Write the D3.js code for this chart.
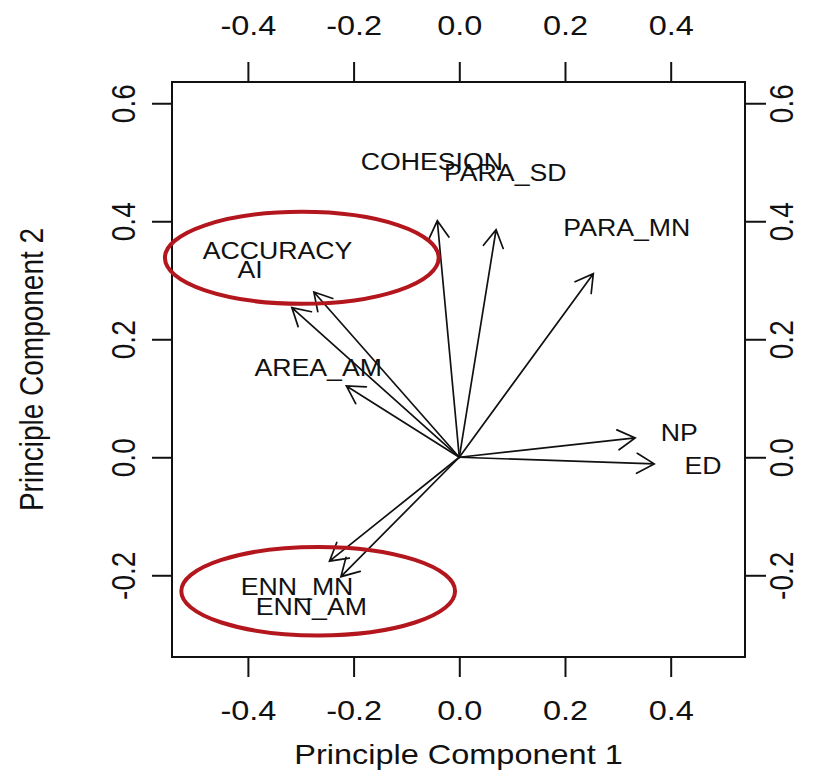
<!DOCTYPE html>
<html>
<head>
<meta charset="utf-8">
<script src="https://cdn.jsdelivr.net/npm/d3@7"></script>
<style>
  html, body { margin: 0; padding: 0; background: #fff; }
  svg text { font-family: "Liberation Sans", Arial, Helvetica, sans-serif; fill: #111; }
</style>
</head>
<body>
<svg id="grafico" width="825" height="776"></svg>
<script>
// variaveis e cargas (posicao dos rotulos, como no biplot do R)
const variaveis = ["COHESION", "PARA_SD", "PARA_MN", "ACCURACY", "AI", "AREA_AM", "NP", "ED", "ENN_MN", "ENN_AM"];
const pc1 = [-0.052, 0.087, 0.317, -0.344, -0.396, -0.267, 0.416, 0.461, -0.307, -0.280];
const pc2 = [0.501, 0.482, 0.389, 0.350, 0.317, 0.151, 0.041, -0.014, -0.220, -0.253];

const ticks_x = [-0.4, -0.2, 0.0, 0.2, 0.4];
const ticks_y = [-0.2, 0.0, 0.2, 0.4, 0.6];

// elipses vermelhas de destaque
const elipse_cx = [-0.298, -0.267];
const elipse_cy = [0.338, -0.227];
const elipse_rx = [0.259, 0.259];
const elipse_ry = [0.078, 0.075];

const titulo_x = "Principle Component 1";
const titulo_y = "Principle Component 2";

const caixa = { left: 172, right: 745, top: 82, bottom: 657 };
const estica = 1.16;   // a figura original esta esticada na horizontal
const fator_seta = 0.8;
const ponta = 20;
const cor_linha = "#111";
const cor_elipse = "#b3161d";

const svg = d3.select("#grafico");

const x = d3.scaleLinear().domain([-0.5436, 0.5406]).range([caixa.left, caixa.right]);
const y = d3.scaleLinear().domain([-0.3385, 0.636]).range([caixa.bottom, caixa.top]);

const dados = variaveis.map((v, i) => ({ nome: v, x: pc1[i], y: pc2[i] }));

// eixos
function arruma_eixo(g) {
  g.select(".domain").remove();
  g.selectAll(".tick line").attr("stroke", cor_linha).attr("stroke-width", 2);
  g.selectAll(".tick text")
    .attr("x", 0).attr("y", 0).attr("dy", null)
    .attr("font-size", 28)
    .attr("text-anchor", "middle")
    .attr("fill", "#111");
}

// hifen comum no lugar do sinal de menos do d3
const fmt = d => d.toFixed(1);

svg.append("g")
  .attr("transform", "translate(0," + caixa.bottom + ")")
  .call(d3.axisBottom(x).tickValues(ticks_x).tickSize(20).tickFormat(fmt))
  .call(arruma_eixo)
  .selectAll(".tick text")
  .attr("transform", "translate(0,62.5) scale(" + estica + ",1)");

svg.append("g")
  .attr("transform", "translate(0," + caixa.top + ")")
  .call(d3.axisTop(x).tickValues(ticks_x).tickSize(20).tickFormat(fmt))
  .call(arruma_eixo)
  .selectAll(".tick text")
  .attr("transform", "translate(0,-47) scale(" + estica + ",1)");

svg.append("g")
  .attr("transform", "translate(" + caixa.left + ",0)")
  .call(d3.axisLeft(y).tickValues(ticks_y).tickSize(20).tickFormat(fmt))
  .call(arruma_eixo)
  .selectAll(".tick text")
  .attr("transform", "translate(-37,0) scale(" + estica + ",1) rotate(-90)");

svg.append("g")
  .attr("transform", "translate(" + caixa.right + ",0)")
  .call(d3.axisRight(y).tickValues(ticks_y).tickSize(21).tickFormat(fmt))
  .call(arruma_eixo)
  .selectAll(".tick text")
  .attr("transform", "translate(48,0) scale(" + estica + ",1) rotate(-90)");

// caixa
svg.append("rect")
  .attr("x", caixa.left).attr("y", caixa.top)
  .attr("width", caixa.right - caixa.left)
  .attr("height", caixa.bottom - caixa.top)
  .attr("fill", "none")
  .attr("stroke", cor_linha)
  .attr("stroke-width", 2);

// titulos
svg.append("text")
  .attr("text-anchor", "middle")
  .attr("font-size", 28)
  .attr("transform", "translate(" + (caixa.left + caixa.right) / 2 + ",764) scale(" + estica + ",1)")
  .text(titulo_x);

svg.append("text")
  .attr("text-anchor", "middle")
  .attr("font-size", 28)
  .attr("transform", "translate(43," + (caixa.top + caixa.bottom) / 2 + ") scale(" + estica + ",1) rotate(-90)")
  .text(titulo_y);

// setas
const x0 = x(0), y0 = y(0);
const g_setas = svg.append("g")
  .attr("fill", "none")
  .attr("stroke", cor_linha)
  .attr("stroke-width", 1.7)
  .attr("stroke-linecap", "round");

g_setas.selectAll("path")
  .data(dados)
  .enter()
  .append("path")
  .attr("d", d => {
    const px = x(d.x * fator_seta), py = y(d.y * fator_seta);
    const ang = Math.atan2(py - y0, px - x0);
    const a1 = ang + Math.PI - Math.PI / 6;
    const a2 = ang + Math.PI + Math.PI / 6;
    return "M" + x0 + "," + y0 + "L" + px + "," + py +
      "M" + (px + ponta * Math.cos(a1)) + "," + (py + ponta * Math.sin(a1)) +
      "L" + px + "," + py +
      "L" + (px + ponta * Math.cos(a2)) + "," + (py + ponta * Math.sin(a2));
  });

// rotulos
svg.append("g")
  .selectAll("text")
  .data(dados)
  .enter()
  .append("text")
  .attr("font-size", 23)
  .attr("text-anchor", "middle")
  .attr("dy", "0.35em")
  .attr("transform", d => "translate(" + x(d.x) + "," + y(d.y) + ") scale(" + estica + ",1)")
  .text(d => d.nome);

// elipses
svg.append("g")
  .selectAll("ellipse")
  .data(elipse_cx.map((c, i) => ({ cx: c, cy: elipse_cy[i], rx: elipse_rx[i], ry: elipse_ry[i] })))
  .enter()
  .append("ellipse")
  .attr("cx", d => x(d.cx))
  .attr("cy", d => y(d.cy))
  .attr("rx", d => x(d.rx) - x(0))
  .attr("ry", d => y(0) - y(d.ry))
  .attr("fill", "none")
  .attr("stroke", cor_elipse)
  .attr("stroke-width", 4);
</script>
</body>
</html>
